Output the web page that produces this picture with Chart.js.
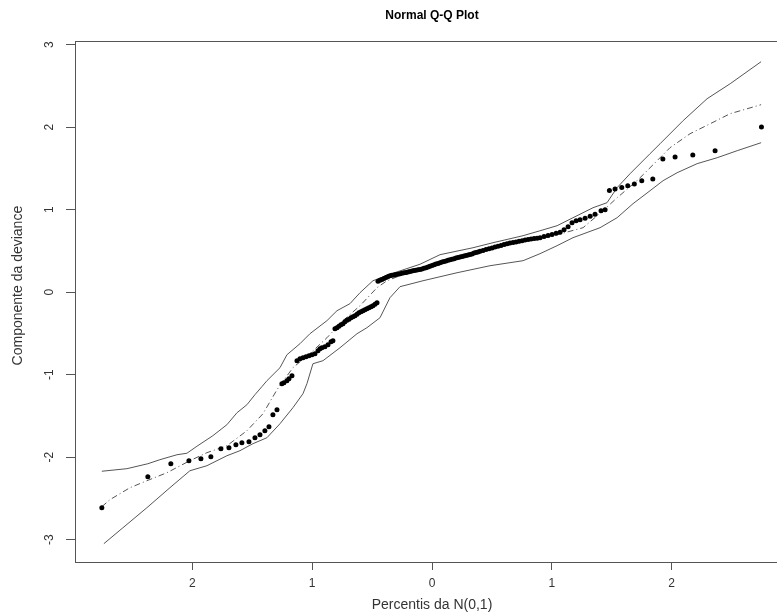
<!DOCTYPE html>
<html>
<head>
<meta charset="utf-8">
<script src="https://cdn.jsdelivr.net/npm/chart.js@4/dist/chart.umd.min.js"></script>
<style>
html,body{margin:0;padding:0;overflow:hidden;background:#fff;width:777px;height:616px;}
canvas{display:block;}
</style>
</head>
<body>
<canvas id="c" width="864" height="616"></canvas>
<script>
// ---- data ----
const chartTitle = 'Normal Q-Q Plot';
const xTitle = 'Percentis da N(0,1)';
const yTitle = 'Componente da deviance';
const xTickValues = [-2, -1, 0, 1, 2];
const xTickLabels = ['2', '1', '0', '1', '2'];
const yTickValues = [-3, -2, -1, 0, 1, 2, 3];
const yTickLabels = ['-3', '-2', '-1', '0', '1', '2', '3'];

// theoretical quantiles (x) and ordered deviance components (y)
const theoQ = [
 -2.756,-2.372,-2.180,-2.029,-1.929,-1.846,-1.762,-1.695,-1.637,-1.587,-1.528,-1.478,-1.436,-1.395,-1.361,-1.328,-1.294,
 -1.253,-1.236,-1.211,-1.194,-1.169,-1.127,-1.102,-1.077,-1.052,-1.027,-1.002,-0.977,-0.952,-0.935,-0.919,-0.894,-0.868,-0.843,-0.827,
 -0.810,-0.793,-0.777,-0.760,-0.743,-0.727,-0.710,-0.693,-0.676,-0.660,-0.643,-0.626,-0.610,-0.593,-0.576,-0.560,-0.543,-0.526,-0.509,-0.493,-0.476,-0.459,
 -0.451,-0.434,-0.418,-0.401,-0.384,-0.367,-0.351,-0.334,-0.317,-0.301,-0.284,-0.267,-0.251,-0.234,-0.217,-0.200,-0.184,-0.167,-0.150,-0.134,-0.117,-0.100,
 -0.084,-0.067,-0.050,-0.033,-0.017,0,0.017,0.033,0.050,0.067,0.084,0.100,0.117,0.134,0.150,0.167,0.184,0.200,0.217,0.234,0.251,0.267,0.284,0.301,0.317,0.334,0.351,0.367,0.384,0.401,
 0.426,0.451,0.476,0.501,0.526,0.551,0.576,0.601,0.626,0.651,0.676,0.701,0.727,0.752,0.777,0.802,0.827,0.852,0.877,0.902,
 0.935,0.969,1.002,1.036,1.069,1.102,1.136,1.169,1.203,1.236,
 1.278,1.320,1.361,1.411,1.445,
 1.481,1.528,1.584,1.634,1.689,1.751,1.843,1.927,2.029,2.177,2.363,2.750
];
const devRes = [
 -2.612,-2.236,-2.079,-2.042,-2.018,-1.994,-1.897,-1.885,-1.848,-1.824,-1.812,-1.764,-1.727,-1.679,-1.630,-1.485,-1.424,
 -1.109,-1.097,-1.073,-1.048,-1.012,-0.830,-0.806,-0.794,-0.782,-0.770,-0.758,-0.745,-0.709,-0.685,-0.673,-0.661,-0.636,-0.600,-0.588,
 -0.442,-0.430,-0.412,-0.394,-0.382,-0.358,-0.339,-0.327,-0.309,-0.297,-0.285,-0.267,-0.248,-0.236,-0.224,-0.212,-0.200,-0.188,-0.176,-0.164,-0.145,-0.127,
 0.133,0.144,0.155,0.166,0.178,0.189,0.200,0.205,0.210,0.215,0.219,0.224,0.230,0.235,0.240,0.245,0.251,0.256,0.262,0.267,0.272,0.276,
 0.282,0.290,0.298,0.307,0.315,0.324,0.332,0.341,0.349,0.358,0.365,0.372,0.379,0.387,0.393,0.400,0.407,0.415,0.421,0.427,0.433,0.439,0.445,0.451,0.457,0.463,0.474,0.481,0.488,0.496,
 0.507,0.518,0.528,0.536,0.547,0.556,0.567,0.577,0.588,0.595,0.602,0.610,0.617,0.624,0.632,0.639,0.644,0.650,0.655,0.661,
 0.674,0.687,0.699,0.714,0.727,0.758,0.794,0.842,0.865,0.879,
 0.896,0.920,0.945,0.988,1.000,
 1.234,1.251,1.270,1.291,1.312,1.352,1.372,1.615,1.639,1.663,1.715,2.002
];

// simulated envelope: upper, median, lower
const upperX = [-2.756,-2.547,-2.372,-2.271,-2.129,-2.046,-1.962,-1.829,-1.712,-1.628,-1.545,-1.478,-1.420,-1.378,-1.269,-1.211,-1.102,-1.019,-0.877,-0.793,-0.685,-0.601,-0.493,-0.351,-0.100,0.067,0.342,0.509,0.760,0.902,1.044,1.177,1.344,1.461,1.545,1.653,1.820,1.904,2.096,2.296,2.489,2.747];
const upperY = [-2.170,-2.139,-2.079,-2.030,-1.970,-1.952,-1.867,-1.739,-1.606,-1.461,-1.364,-1.242,-1.145,-1.073,-0.915,-0.758,-0.624,-0.503,-0.345,-0.224,-0.139,-0.006,0.139,0.218,0.339,0.455,0.539,0.600,0.685,0.745,0.806,0.903,1.024,1.085,1.267,1.436,1.679,1.800,2.079,2.345,2.527,2.794];
const medianX = [-2.756,-2.689,-2.522,-2.380,-2.213,-2.021,-1.879,-1.712,-1.545,-1.411,-1.294,-1.161,-1.019,-0.877,-0.743,-0.601,-0.459,-0.376,-0.267,0,0.317,0.651,0.985,1.261,1.428,1.545,1.712,1.879,1.987,2.154,2.322,2.489,2.747];
const medianY = [-2.600,-2.515,-2.370,-2.285,-2.188,-2.042,-1.945,-1.861,-1.679,-1.473,-1.182,-0.915,-0.745,-0.552,-0.345,-0.164,0.055,0.139,0.200,0.309,0.455,0.576,0.673,0.782,0.988,1.145,1.352,1.594,1.752,1.921,2.042,2.164,2.273];
const lowerX = [-2.739,-2.580,-2.380,-2.188,-2.021,-1.879,-1.712,-1.603,-1.495,-1.378,-1.269,-1.161,-1.077,-1.044,-0.994,-0.910,-0.768,-0.626,-0.543,-0.434,-0.351,-0.267,-0.075,0.209,0.484,0.760,0.902,1.044,1.177,1.403,1.545,1.678,1.820,1.929,2.046,2.213,2.380,2.547,2.747];
const lowerY = [-3.048,-2.855,-2.612,-2.370,-2.164,-2.103,-1.982,-1.921,-1.836,-1.764,-1.594,-1.400,-1.230,-1.109,-0.867,-0.830,-0.673,-0.503,-0.430,-0.309,-0.067,0.067,0.139,0.236,0.321,0.382,0.467,0.564,0.661,0.782,0.903,1.073,1.230,1.352,1.448,1.558,1.630,1.715,1.812];

// ---- chart ----
const FONT = '"Liberation Sans", Arial, sans-serif';
const zip = (xs, ys) => xs.slice(0, Math.min(xs.length, ys.length)).map((x, i) => ({x, y: ys[i]}));

const rAxisPlugin = {
  id: 'rAxis',
  afterDraw(chart) {
    const {ctx, chartArea: a, scales: {y}} = chart;
    ctx.save();
    ctx.strokeStyle = '#555';
    ctx.lineWidth = 1;
    ctx.strokeRect(Math.round(a.left) + 0.5, Math.round(a.top) + 0.5,
                   Math.round(a.right - a.left), Math.round(a.bottom - a.top));
    ctx.fillStyle = '#333';
    ctx.textAlign = 'center';
    ctx.textBaseline = 'middle';
    ctx.font = '12px ' + FONT;
    yTickValues.forEach((v, i) => {
      const py = y.getPixelForValue(v);
      ctx.save();
      ctx.translate(50, py);
      ctx.rotate(-Math.PI / 2);
      ctx.fillText(yTickLabels[i], 0, 0);
      ctx.restore();
    });
    // y axis title
    ctx.font = '14px ' + FONT;
    ctx.save();
    ctx.translate(18, y.getPixelForValue(0.08));
    ctx.rotate(-Math.PI / 2);
    ctx.fillText(yTitle, 0, 0);
    ctx.restore();
    ctx.restore();
  }
};

new Chart(document.getElementById('c'), {
  type: 'scatter',
  data: {
    datasets: [
      { label: 'obs', data: zip(theoQ, devRes), showLine: false,
        pointRadius: 2.5, pointBackgroundColor: '#000', pointBorderWidth: 0, pointStyle: 'circle' },
      { label: 'upper', data: zip(upperX, upperY), showLine: true, pointRadius: 0,
        borderColor: '#555', borderWidth: 1, tension: 0 },
      { label: 'median', data: zip(medianX, medianY), showLine: true, pointRadius: 0,
        borderColor: '#555', borderWidth: 1, borderDash: [6, 3, 1, 3], tension: 0 },
      { label: 'lower', data: zip(lowerX, lowerY), showLine: true, pointRadius: 0,
        borderColor: '#555', borderWidth: 1, tension: 0 }
    ]
  },
  options: {
    responsive: false,
    animation: false,
    devicePixelRatio: 1,
    layout: { padding: 0 },
    plugins: {
      legend: { display: false },
      tooltip: { enabled: false },
      title: {
        display: true, text: chartTitle, color: '#000',
        font: { family: FONT, size: 12, weight: 'bold' },
        padding: { top: 8, bottom: 19 }
      }
    },
    scales: {
      x: {
        type: 'linear', min: -2.98, max: 2.98,
        afterBuildTicks: s => { s.ticks = xTickValues.map(v => ({value: v})); },
        afterFit: s => { s.height = 54; },
        ticks: { callback: (v, i) => xTickLabels[i], color: '#333',
                 font: { family: FONT, size: 12 }, padding: 6, maxRotation: 0, autoSkip: false },
        grid: { drawOnChartArea: false, drawTicks: true, tickLength: 8, color: '#555' },
        border: { display: true, color: '#555' },
        title: { display: true, text: xTitle, color: '#333',
                 font: { family: FONT, size: 14 }, padding: { top: 0, bottom: 2 } }
      },
      y: {
        type: 'linear', min: -3.27, max: 3.04,
        afterBuildTicks: s => { s.ticks = yTickValues.map(v => ({value: v})); },
        afterFit: s => { s.width = 75; },
        ticks: { display: false },
        grid: { drawOnChartArea: false, drawTicks: true, tickLength: 9, color: '#555' },
        border: { display: true, color: '#555' }
      },
      yRight: {
        type: 'linear', position: 'right', display: true,
        afterFit: s => { s.width = 75; },
        ticks: { display: false },
        grid: { display: false, drawTicks: false },
        border: { display: false }
      }
    }
  },
  plugins: [rAxisPlugin]
});
</script>
</body>
</html>
